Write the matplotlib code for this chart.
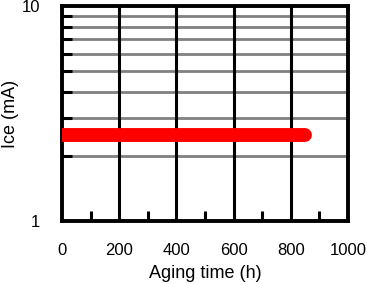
import numpy as np
import matplotlib.pyplot as plt
from matplotlib.ticker import FixedLocator, NullFormatter

plt.rcParams['font.family'] = ['Liberation Sans', 'DejaVu Sans']

# aging data: Ice stays flat around 2.5 mA
aging_h = [0, 100, 200, 300, 400, 500, 600, 700, 800, 850]
ice_mA = [2.5, 2.5, 2.5, 2.5, 2.5, 2.5, 2.5, 2.5, 2.5, 2.5]

x_ticks = [0, 200, 400, 600, 800, 1000]
x_minor = [100, 300, 500, 700, 900]
y_minor = [2, 3, 4, 5, 6, 7, 8, 9]

fig = plt.figure(figsize=(3.67, 2.84), dpi=100)
ax = fig.add_axes([62/367, 1 - 221/284, 286/367, 215/284])

ax.set_yscale('log')
ax.set_xlim(0, 1000)
ax.set_ylim(1, 10)

for v in y_minor:
    ax.axhline(v, color='#808080', lw=2, zorder=1)
for v in x_ticks[1:-1]:
    ax.axvline(v, color='black', lw=2.2, zorder=1)

ax.plot(aging_h, ice_mA, color='red', lw=10, solid_capstyle='round', zorder=3)

ax.set_xticks(x_ticks)
ax.xaxis.set_minor_locator(FixedLocator(x_minor))
ax.set_yticks([1, 10])
ax.set_yticklabels(['1', '10'])
ax.yaxis.set_minor_locator(FixedLocator(y_minor))
ax.yaxis.set_minor_formatter(NullFormatter())

ax.tick_params(which='major', direction='in', length=0, labelsize=12)
ax.tick_params(axis='x', which='major', pad=16)
ax.tick_params(axis='y', which='major', pad=16)
ax.tick_params(which='minor', direction='in', length=7, width=2.2)
ax.tick_params(axis='x', which='minor', bottom=True, top=False)
ax.tick_params(axis='y', which='minor', left=True, right=False)

for s in ax.spines.values():
    s.set_linewidth(2.8)

ax.set_xlabel('Aging time (h)', fontsize=13)
ax.set_ylabel('Ice (mA)', fontsize=13)
ax.xaxis.set_label_coords(0.5, -0.205)
ax.yaxis.set_label_coords(-0.15, 0.5)

fig.savefig('out.png', dpi=100)
